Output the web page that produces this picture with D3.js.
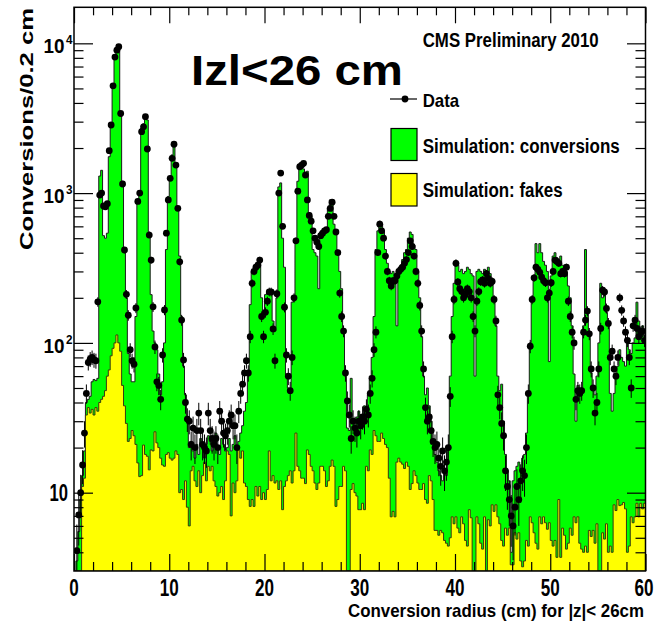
<!DOCTYPE html>
<html>
<head>
<meta charset="utf-8">
<script src="https://cdn.jsdelivr.net/npm/d3@7"></script>
<style>
  body { margin: 0; background: #fff; }
  text { font-family: "Liberation Sans", Arial, Helvetica, sans-serif; font-weight: bold; fill: #000; }
</style>
</head>
<body>
<svg id="chart" width="656" height="627"></svg>
<script>
// Conversion radius histograms, 0.2 cm bins from 0 to 60 cm (|z| < 26 cm)
const binWidth = 0.2;

// Simulation, total (conversions + fakes), per 0.2 cm bin
const simConversions = [
  0, 3.5, 5.5, 9, 13, 19, 40, 42, 44, 55,
  57, 56, 58, 1300, 1420, 520, 500, 540, 1750, 2800,
  5000, 8000, 9100, 9300, 3300, 1200, 430, 200, 85, 62,
  55, 55, 150, 900, 1000, 2720, 2900, 3240, 3080, 550,
  210, 120, 100, 90, 62, 45, 55, 100, 420, 950,
  1300, 1800, 2050, 1500, 800, 380, 150, 70, 45, 30,
  20, 22, 19, 17, 21, 18, 23, 20, 17, 21,
  24, 22, 19, 21, 25, 20, 18, 23, 21, 19,
  20, 23, 19, 21, 24, 20, 22, 25, 28, 35,
  40, 60, 180, 300, 310, 305, 340, 357, 200, 160,
  210, 215, 220, 215, 140, 120, 200, 1100, 1170, 500,
  320, 60, 50, 48, 187, 190, 500, 1200, 1540, 1500,
  1450, 1380, 1400, 740, 700, 420, 400, 380, 230, 550,
  550, 560, 540, 800, 900, 880, 620, 560, 400, 300,
  230, 120, 60, 27, 26, 58, 30, 28, 32, 35,
  30, 33, 38, 36, 45, 60, 80, 150, 420, 560,
  650, 620, 560, 420, 340, 300, 290, 300, 280, 130,
  310, 330, 360, 400, 420, 500, 550, 530, 450, 420,
  300, 200, 110, 60, 45, 50, 38, 30, 22, 18,
  16, 14, 13, 12, 14, 13, 20, 60, 150, 250,
  357, 330, 300, 310, 290, 300, 320, 310, 290, 280,
  60, 300, 310, 300, 290, 310, 300, 320, 290, 270,
  190, 130, 60, 48, 53, 30, 18, 14, 12, 4,
  12, 14, 15, 16, 14, 17, 18, 25, 45, 100,
  200, 280, 460, 400, 460, 400, 350, 330, 300, 75,
  280, 380, 400, 370, 350, 380, 330, 320, 300, 240,
  200, 130, 62, 30, 52, 50, 50, 130, 420, 170,
  120, 63, 50, 45, 60, 100, 250, 200, 210, 160,
  140, 46, 35, 46, 60, 70, 90, 80, 75, 70,
  100, 90, 85, 100, 108, 187, 140, 125, 130, 110
];

// Simulation, fakes only
const simFakes = [
  0, 0, 0, 0, 11, 12.5, 33, 37, 34, 36,
  33, 37, 35, 40, 42, 44, 48, 60, 66, 82,
  92, 100, 113, 100, 88, 52, 38, 29, 22, 23,
  26, 24, 21, 15.8, 12.8, 13, 20.8, 18, 17.5, 14.2,
  19.3, 19, 25.5, 21.5, 20, 17, 15.3, 15, 18, 18.5,
  17, 16.5, 17, 19, 18, 10, 10.5, 9, 12, 8,
  6, 14, 15, 12, 11, 14, 10, 13, 16, 12,
  15, 14, 15, 12, 11, 9.5, 10, 11, 9, 12,
  19, 18, 7, 11.6, 10, 12, 19.3, 17, 19, 11.6,
  11, 9, 8.1, 9, 8.1, 11, 9.5, 11, 9, 10,
  9, 10.5, 19, 12, 13, 11.6, 12, 10.5, 12, 7.7,
  11, 12, 13, 14, 11.6, 14, 25, 15, 14, 12.5,
  12.5, 11.5, 19.3, 18, 15, 14, 11.6, 10.5, 11.6, 15,
  15, 14, 11, 12, 15, 16.5, 15, 8.1, 9, 11,
  11, 15, 14, 0, 0, 10.5, 11.5, 10, 9.5, 7.7,
  7.7, 8.5, 7.7, 15, 14, 19.3, 18, 26, 24, 22,
  22, 25, 23, 21, 20, 12.5, 6.9, 7.5, 6.9, 16,
  17, 16, 15.5, 14.5, 16, 15, 10.5, 11.5, 14, 13,
  11.6, 10.5, 10.5, 11.5, 9, 8.5, 13, 12, 9, 5.6,
  5.6, 5.2, 5.6, 5.4, 4.8, 4.6, 4.4, 5, 6.9, 6.2,
  6.9, 5.8, 5.4, 6.9, 6.2, 4.8, 4.4, 7.7, 6.8, 0,
  0, 6.9, 6.2, 4.6, 4.2, 6.9, 0, 6.6, 6, 8.3,
  7.5, 8.3, 6.9, 6.2, 4.8, 4.4, 5.8, 5.2, 5.8, 3.3,
  3.3, 5.4, 4.9, 5.4, 3.5, 3.2, 3.5, 4.8, 4.4, 6.9,
  6.3, 5.4, 4.6, 4.2, 6.9, 6.2, 6.9, 6.3, 5.7, 6.3,
  4.8, 4.4, 4.8, 3.7, 9, 3.7, 5.8, 5.2, 4.2, 4.6,
  5.8, 5.2, 6.9, 6.3, 6.9, 4.6, 4.2, 4.0, 4.4, 4.0,
  5.6, 5.1, 5.6, 4.6, 6.2, 0, 0, 5.4, 4.9, 6.2,
  4.0, 4.4, 4.0, 8.3, 7.6, 9, 8.2, 8.3, 8.6, 7.8,
  4.0, 4.4, 6.9, 6.3, 6.9, 8.5, 6.9, 8.5, 7.8, 8.5
];

// Data, counts per bin (null where no entry is shown)
const dataCounts = [
  null, 4.1, 7.1, 10, 15.3, 25, 46, 74, 78, 80,
  77, 76, 188, 970, 1000, 820, 810, 850, 1920, 2850,
  5200, 8100, 9000, 9500, 3400, 1150, 417, 211, 153, 90,
  76, 72, 171, 880, 1000, 2570, 2770, 3240, 1970, 525,
  357, 174, 94, 55, 52, 42, 83, 166, 540, 900,
  1256, 1706, 2120, 1540, 792, 348, 142, 77, 40, 31,
  30, 21, 27, 20, 26, 34, 26, 21, 20, 19,
  34, 26, 23, 21, 23, 20, 35, 30, 25, 24,
  26, 30, 33, 28, 28, 20, 35, 46, 53, 63,
  76, 63, 110, 250, 300, 320, 330, 357, 150, 110,
  160, 190, 219, 219, 124, 76, 213, 1000, 1360, 600,
  173, 83, 60, 48, 80, 200, 480, 1030, 1500, 1540,
  1580, 1320, 900, 710, 650, 560, 500, 470, 440, 520,
  540, 560, 570, 700, 790, 870, 700, 550, 400, 215,
  150, 120, 63, 41, 33, 23, 30, 27, 25, 30,
  28, 32, 30, 36, 33, 46, 58, 90, 118, 400,
  620, 560, 500, 380, 300, 260, 240, 260, 260, 280,
  300, 310, 320, 340, 360, 400, 480, 440, 380, 300,
  250, 178, 120, 67, 37, 30, 32, 26, 22, 20,
  21, 17, 15, 19, 14, 16, 20, 44, 110, 195,
  340, 255, 230, 220, 200, 210, 230, 220, 200, 150,
  120, 190, 220, 256, 263, 250, 290, 270, 250, 257,
  195, 140, 45, 37, 29, 24, 14, 11, 9, 7,
  6, 8, 11, 9, 12, 14, 13, 20, 46, 95,
  195, 272, 320, 310, 296, 275, 260, 252, 200, 215,
  252, 300, 357, 350, 340, 290, 300, 290, 320, 190,
  150, 118, 100, 42, 48, 46, 48, 118, 142, 163,
  115, 67, 50, 34, 40, 67, 125, 225, 219, 170,
  135, 80, 88, 67, 60, 80, 200, 165, 140, 118,
  104, 80, 50, 130, 142, 125, 110, 118, 120, 104
];

// Axis ticks and labels
const xMajorTicks = [0, 10, 20, 30, 40, 50, 60];
const xMinorTicks = [2, 4, 6, 8, 12, 14, 16, 18, 22, 24, 26, 28, 32, 34, 36, 38, 42, 44, 46, 48, 52, 54, 56, 58];
const yDecades = [10, 100, 1000, 10000];
const yExponentLabels = ["", "2", "3", "4"];
const yMinorTicks = [4, 5, 6, 7, 8, 9, 20, 30, 40, 50, 60, 70, 80, 90,
  200, 300, 400, 500, 600, 700, 800, 900, 2000, 3000, 4000, 5000, 6000, 7000, 8000, 9000];

const plot = { left: 74, right: 645.5, top: 7.3, bottom: 571 };
const x = d3.scaleLinear().domain([0, 60]).range([plot.left, plot.right]);
const y = d3.scaleLog().domain([3, 17400]).range([plot.bottom, plot.top]).clamp(true);

const svg = d3.select("#chart");
svg.append("rect").attr("width", 656).attr("height", 627).attr("fill", "#fff");

svg.append("clipPath").attr("id", "plotClip")
  .append("rect")
  .attr("x", plot.left).attr("y", plot.top)
  .attr("width", plot.right - plot.left).attr("height", plot.bottom - plot.top);

const yPos = v => (v > 0 ? y(v) : plot.bottom);

function stepPath(values) {
  const p = d3.path();
  p.moveTo(x(0), plot.bottom);
  values.forEach((v, i) => {
    const yy = yPos(v);
    p.lineTo(x(i * binWidth), yy);
    p.lineTo(x((i + 1) * binWidth), yy);
  });
  p.lineTo(x(values.length * binWidth), plot.bottom);
  p.closePath();
  return p.toString();
}

const g = svg.append("g").attr("clip-path", "url(#plotClip)");

// simulated conversions (total) in green, fakes drawn in front in yellow
g.append("path").attr("d", stepPath(simConversions))
  .attr("fill", "#00ff00").attr("stroke", "#1a1a1a").attr("stroke-width", 1);
g.append("path").attr("d", stepPath(simFakes))
  .attr("fill", "#ffff00").attr("stroke", "#3a3a10").attr("stroke-width", 1);

// data points with error bars
const pts = dataCounts.map((v, i) => ({ v, i })).filter(d => d.v != null);
const eb = g.append("g").attr("stroke", "#000").attr("stroke-width", 1);
eb.selectAll("line.v").data(pts).join("line").attr("class", "v")
  .attr("x1", d => x((d.i + 0.5) * binWidth)).attr("x2", d => x((d.i + 0.5) * binWidth))
  .attr("y1", d => yPos(d.v + Math.sqrt(d.v)))
  .attr("y2", d => yPos(d.v - Math.sqrt(d.v)));
eb.selectAll("line.h").data(pts).join("line").attr("class", "h")
  .attr("x1", d => x(d.i * binWidth)).attr("x2", d => x((d.i + 1) * binWidth))
  .attr("y1", d => yPos(d.v)).attr("y2", d => yPos(d.v));
g.append("g").selectAll("circle").data(pts).join("circle")
  .attr("cx", d => x((d.i + 0.5) * binWidth))
  .attr("cy", d => yPos(d.v))
  .attr("r", 3.4).attr("fill", "#000");

// axes (ticks only, pointing inward)
function tickAxis(axis, transform, values, size) {
  const a = svg.append("g").attr("transform", transform)
    .call(axis.tickValues(values).tickSize(size).tickFormat(""));
  a.select(".domain").remove();
  a.selectAll(".tick line").attr("stroke", "#000").attr("stroke-width", 1.2);
}
tickAxis(d3.axisLeft(y), `translate(${plot.left},0)`, yDecades, -19);
tickAxis(d3.axisLeft(y), `translate(${plot.left},0)`, yMinorTicks, -9.5);
tickAxis(d3.axisRight(y), `translate(${plot.right},0)`, yDecades, -18.5);
tickAxis(d3.axisRight(y), `translate(${plot.right},0)`, yMinorTicks, -10);
tickAxis(d3.axisBottom(x), `translate(0,${plot.bottom})`, xMajorTicks, -17);
tickAxis(d3.axisBottom(x), `translate(0,${plot.bottom})`, xMinorTicks, -9);
tickAxis(d3.axisTop(x), `translate(0,${plot.top})`, xMajorTicks, -16);
tickAxis(d3.axisTop(x), `translate(0,${plot.top})`, xMinorTicks, -8);

svg.append("rect")
  .attr("x", plot.left).attr("y", plot.top)
  .attr("width", plot.right - plot.left).attr("height", plot.bottom - plot.top)
  .attr("fill", "none").attr("stroke", "#000").attr("stroke-width", 1.5);

// x tick labels
svg.append("g").selectAll("text").data(xMajorTicks).join("text")
  .attr("x", d => Math.min(x(d), 644)).attr("y", 595.5)
  .attr("text-anchor", "middle").attr("font-size", 24)
  .attr("textLength", d => (d === 0 ? 9.5 : 19)).attr("lengthAdjust", "spacingAndGlyphs")
  .text(d => d);

// y tick labels: 10, 10^2, 10^3, 10^4
yDecades.forEach((v, k) => {
  const ty = y(v);
  if (yExponentLabels[k] === "") {
    svg.append("text").attr("x", 68).attr("y", ty + 8).attr("text-anchor", "end")
      .attr("font-size", 23).attr("textLength", 18.5).attr("lengthAdjust", "spacingAndGlyphs")
      .text("10");
  } else {
    svg.append("text").attr("x", 64.5).attr("y", ty + 10).attr("text-anchor", "end")
      .attr("font-size", 21).attr("textLength", 21).attr("lengthAdjust", "spacingAndGlyphs")
      .text("10");
    svg.append("text").attr("x", 66).attr("y", ty + 1)
      .attr("font-size", 13.5).attr("textLength", 6.5).attr("lengthAdjust", "spacingAndGlyphs")
      .text(yExponentLabels[k]);
  }
});

// axis titles
svg.append("text").attr("x", 644).attr("y", 617).attr("text-anchor", "end")
  .attr("font-size", 18.5).attr("textLength", 296).attr("lengthAdjust", "spacingAndGlyphs")
  .text("Conversion radius (cm) for |z|< 26cm");
svg.append("text").attr("transform", "translate(33,250) rotate(-90)")
  .attr("font-size", 18).attr("textLength", 242).attr("lengthAdjust", "spacingAndGlyphs")
  .text("Conversions/0.2 cm");

// headline and label
svg.append("text").attr("x", 191).attr("y", 85)
  .attr("font-size", 42).attr("textLength", 212).attr("lengthAdjust", "spacingAndGlyphs")
  .text("Izl<26 cm");
svg.append("text").attr("x", 422.7).attr("y", 46.7)
  .attr("font-size", 20).attr("textLength", 176).attr("lengthAdjust", "spacingAndGlyphs")
  .text("CMS Preliminary 2010");

// legend
const lg = svg.append("g");
lg.append("line").attr("x1", 390).attr("x2", 417).attr("y1", 99).attr("y2", 99)
  .attr("stroke", "#000").attr("stroke-width", 1.2);
lg.append("circle").attr("cx", 405).attr("cy", 99).attr("r", 3.4).attr("fill", "#000");
lg.append("text").attr("x", 422.7).attr("y", 106.7)
  .attr("font-size", 19).attr("textLength", 36.5).attr("lengthAdjust", "spacingAndGlyphs")
  .text("Data");
lg.append("rect").attr("x", 391).attr("y", 128.5).attr("width", 26).attr("height", 32)
  .attr("fill", "#00ff00").attr("stroke", "#000").attr("stroke-width", 1.2);
lg.append("text").attr("x", 422.7).attr("y", 152.5)
  .attr("font-size", 19.5).attr("textLength", 197).attr("lengthAdjust", "spacingAndGlyphs")
  .text("Simulation: conversions");
lg.append("rect").attr("x", 391).attr("y", 173.5).attr("width", 26).attr("height", 32.5)
  .attr("fill", "#ffff00").attr("stroke", "#000").attr("stroke-width", 1.2);
lg.append("text").attr("x", 422.7).attr("y", 196.5)
  .attr("font-size", 19.5).attr("textLength", 140).attr("lengthAdjust", "spacingAndGlyphs")
  .text("Simulation: fakes");
</script>
</body>
</html>
